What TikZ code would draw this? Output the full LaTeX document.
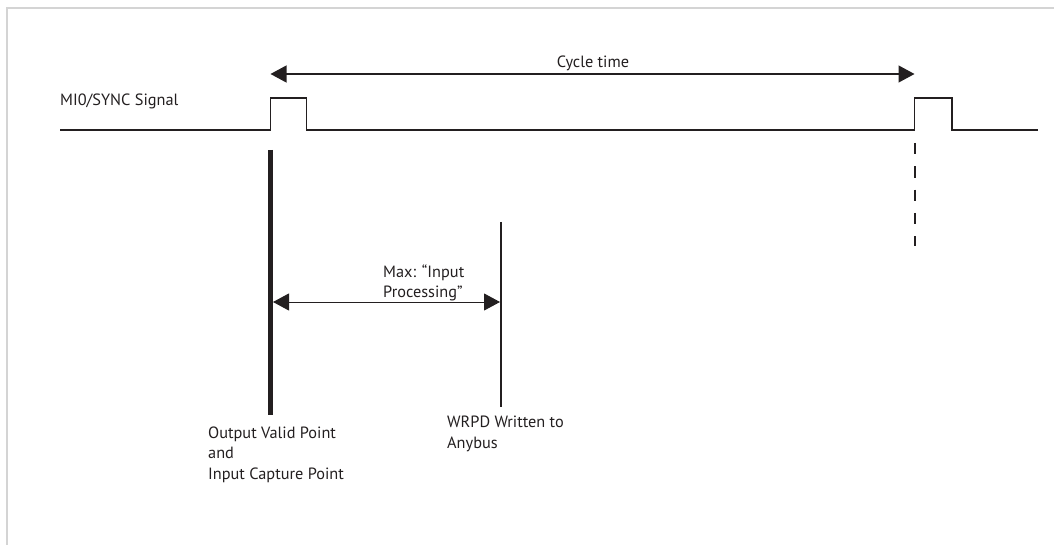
\documentclass[tikz,border=0pt]{standalone}
\usepackage{fontspec}
\setmainfont{PT Sans}
\usetikzlibrary{arrows.meta}
\definecolor{frame}{HTML}{D4D4D4}
\definecolor{ink}{HTML}{231F20}
\tikzset{
  lbl/.style={inner sep=0pt, font=\fontsize{16.3}{20.3}\selectfont, text=ink, align=left},
  sig/.style={draw=ink, line width=1.8pt},
  dimarrow/.style={draw=ink, line width=1.2pt, {Triangle[length=16pt,width=17pt]}-{Triangle[length=16pt,width=17pt]}},
  markline/.style={draw=ink, line width=1.8pt},
  thickline/.style={draw=ink, line width=5pt},
  dashline/.style={draw=ink, line width=2pt, dash pattern=on 11.5pt off 11.8pt}
}
\begin{document}
\begin{tikzpicture}[x=1pt,y=-1pt]
\useasboundingbox (0,0) rectangle (1054,545);
% frame
\draw[frame, line width=1.5pt] (7,545) -- (7,8) -- (1054,8);
% signal coordinates
\coordinate (s0) at (60,130);
\coordinate (p1a) at (270.5,130);
\coordinate (p1b) at (270.5,98);
\coordinate (p1c) at (306.5,98);
\coordinate (p1d) at (306.5,130);
\coordinate (p2a) at (914.5,130);
\coordinate (p2b) at (914.5,98);
\coordinate (p2c) at (952,98);
\coordinate (p2d) at (952,130);
\coordinate (s1) at (1038,130);
\draw[sig] (s0) -- (p1a) -- (p1b) -- (p1c) -- (p1d) -- (p2a) -- (p2b) -- (p2c) -- (p2d) -- (s1);
% cycle time
\coordinate (ctl) at (270.5,74);
\coordinate (ctr) at (914.5,74);
\draw[dimarrow] (ctl) -- (ctr);
\node[lbl, anchor=base] (ct) at (593,67.5) {Cycle time};
\node[lbl, anchor=base west] (sync) at (60,106) {MI0/SYNC Signal};
% vertical marks
\coordinate (ovt) at (270.5,150);
\coordinate (ovb) at (270.5,415);
\draw[thickline] (ovt) -- (ovb);
\coordinate (wrt) at (501,222);
\coordinate (wrb) at (501,407);
\draw[markline] (wrt) -- (wrb);
\coordinate (dt) at (914.5,143);
\coordinate (db) at (914.5,246);
\draw[dashline] (dt) -- (db);
% max arrow
\coordinate (mxl) at (273,302);
\coordinate (mxr) at (500,302);
\draw[dimarrow, line width=1pt] (mxl) -- (mxr);
\node[lbl, anchor=base west] (mx) at (383,297.5) {Max: “Input\\Processing”};
% labels
\node[lbl, anchor=base west] (ov) at (208,479) {Output Valid Point\\and\\Input Capture Point};
\node[lbl, anchor=base west] (wr) at (447,448) {WRPD Written to\\Anybus};
\end{tikzpicture}
\end{document}
